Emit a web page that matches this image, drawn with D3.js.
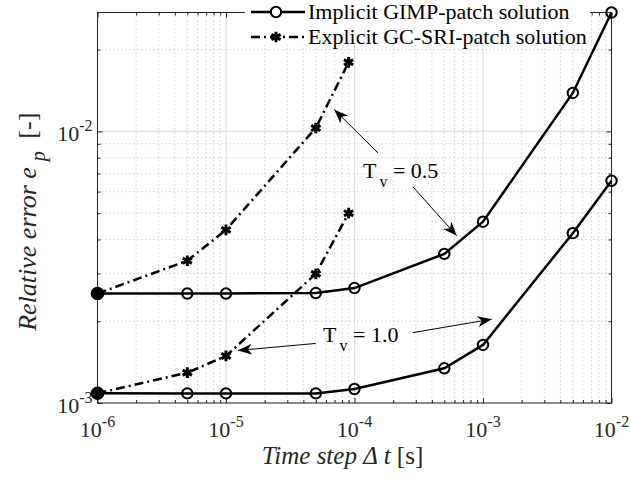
<!DOCTYPE html>
<meta charset="utf-8">
<style>
    body { margin: 0; background: #fff; }
    svg { font-family: "Liberation Serif", "Times New Roman", serif; }
</style>
<script src="https://d3js.org/d3.v7.min.js"></script>
<div id="chart"></div>
<script>

    // time steps (s)
    var timeSteps = [1e-6, 5e-6, 1e-5, 5e-5, 1e-4, 5e-4, 1e-3, 5e-3, 1e-2];
    var explicitSteps = [1e-6, 5e-6, 1e-5, 5e-5, 9e-5];

    // relative error e_p
    var implicitTv05 = [2.53e-3, 2.53e-3, 2.53e-3, 2.54e-3, 2.65e-3, 3.54e-3, 4.65e-3, 1.385e-2, 2.74e-2];
    var implicitTv10 = [1.086e-3, 1.085e-3, 1.085e-3, 1.085e-3, 1.126e-3, 1.342e-3, 1.636e-3, 4.22e-3, 6.58e-3];
    var explicitTv05 = [2.53e-3, 3.34e-3, 4.34e-3, 1.029e-2, 1.796e-2];
    var explicitTv10 = [1.086e-3, 1.293e-3, 1.49e-3, 2.99e-3, 5.0e-3];

    var xTicks = [1e-6, 1e-5, 1e-4, 1e-3, 1e-2];
    var xTickExps = ["-6", "-5", "-4", "-3", "-2"];
    var yTicks = [1e-3, 1e-2];
    var yTickExps = ["-3", "-2"];

    var legendLabels = ["Implicit GIMP-patch solution", "Explicit GC-SRI-patch solution"];

    // annotations in data coords: [dt, err]
    var notes = [
        {label: "0.5", at: [1.164e-4, 6.75e-3]},
        {label: "1.0", at: [5.69e-5, 1.678e-3]}
    ];
    var arrows = [
        {from: [1.52e-4, 8.34e-3], to: [6.97e-5, 1.202e-2]},
        {from: [2.85e-4, 6.25e-3], to: [6.24e-4, 4.13e-3]},
        {from: [5.0e-5, 1.657e-3], to: [1.24e-5, 1.561e-3]},
        {from: [2.85e-4, 1.816e-3], to: [1.169e-3, 2.035e-3]}
    ];

    var margin = {top: 12.5, right: 19.5, bottom: 81, left: 97.5},
        width = 631 - margin.left - margin.right,
        height = 484 - margin.top - margin.bottom;

    var svg = d3.select("#chart")
        .append("svg")
        .attr("width", 631)
        .attr("height", 484)
        .append("g")
        .attr("transform", "translate(" + margin.left + "," + margin.top + ")");

    var allErr = implicitTv05.concat(implicitTv10, explicitTv05, explicitTv10);

    var x = d3.scaleLog()
        .domain([timeSteps[0], timeSteps[timeSteps.length - 1]])
        .range([0, width]);
    var y = d3.scaleLog()
        .domain([yTicks[0], d3.max(allErr)])
        .range([height, 0]);

    // minor tick positions (2..9 per decade)
    var xMinor = [], yMinor = [];
    for (var e = -6; e < -2; e++)
        for (var k = 2; k < 10; k++) xMinor.push(k * Math.pow(10, e));
    for (var e2 = -3; e2 < -1; e2++)
        for (var k2 = 2; k2 < 10; k2++) {
            var v = k2 * Math.pow(10, e2);
            if (v <= y.domain()[1]) yMinor.push(v);
        }

    // grid
    var grid = svg.append("g").attr("class", "grid");
    grid.selectAll(".xmin").data(xMinor).enter().append("line")
        .attr("x1", function(d) { return x(d); }).attr("x2", function(d) { return x(d); })
        .attr("y1", 0).attr("y2", height)
        .style("stroke", "#bdbdbd").style("stroke-dasharray", "1,3");
    grid.selectAll(".ymin").data(yMinor).enter().append("line")
        .attr("y1", function(d) { return y(d); }).attr("y2", function(d) { return y(d); })
        .attr("x1", 0).attr("x2", width)
        .style("stroke", "#bdbdbd").style("stroke-dasharray", "1,3");
    grid.selectAll(".xmaj").data(xTicks).enter().append("line")
        .attr("x1", function(d) { return x(d); }).attr("x2", function(d) { return x(d); })
        .attr("y1", 0).attr("y2", height)
        .style("stroke", "#e0e0e0").style("stroke-width", 1.2);
    grid.selectAll(".ymaj").data(yTicks).enter().append("line")
        .attr("y1", function(d) { return y(d); }).attr("y2", function(d) { return y(d); })
        .attr("x1", 0).attr("x2", width)
        .style("stroke", "#e0e0e0").style("stroke-width", 1.2);

    // inward ticks on all sides
    function tickAxis(axisFn, scale, vals, len, tr) {
        var g = svg.append("g")
            .attr("transform", tr)
            .call(axisFn(scale).tickValues(vals).tickSize(len).tickSizeOuter(0).tickFormat(""));
        g.select(".domain").remove();
        g.selectAll("line").style("stroke", "#262626");
    }
    tickAxis(d3.axisBottom, x, xTicks, -5, "translate(0," + height + ")");
    tickAxis(d3.axisBottom, x, xMinor, -3, "translate(0," + height + ")");
    tickAxis(d3.axisTop, x, xTicks, -5, "translate(0,0)");
    tickAxis(d3.axisTop, x, xMinor, -3, "translate(0,0)");
    tickAxis(d3.axisLeft, y, yTicks, -5, "translate(0,0)");
    tickAxis(d3.axisLeft, y, yMinor, -3, "translate(0,0)");
    tickAxis(d3.axisRight, y, yTicks, -5, "translate(" + width + ",0)");
    tickAxis(d3.axisRight, y, yMinor, -3, "translate(" + width + ",0)");

    svg.append("rect")
        .attr("width", width).attr("height", height)
        .style("fill", "none").style("stroke", "#262626").style("stroke-width", 1);

    // tick labels with superscripts
    var xl = svg.selectAll(".xlab").data(xTicks).enter().append("text")
        .attr("x", function(d) { return x(d); })
        .attr("y", height + 34)
        .attr("text-anchor", "middle")
        .style("font-size", "22px").style("fill", "#262626");
    xl.append("tspan").text("10");
    xl.append("tspan").attr("dy", -10).style("font-size", "16px")
        .text(function(d, i) { return xTickExps[i]; });

    var yl = svg.selectAll(".ylab").data(yTicks).enter().append("text")
        .attr("x", -5)
        .attr("y", function(d) { return y(d) + 10; })
        .attr("text-anchor", "end")
        .style("font-size", "22px").style("fill", "#262626");
    yl.append("tspan").text("10");
    yl.append("tspan").attr("dy", -10).style("font-size", "16px")
        .text(function(d, i) { return yTickExps[i]; });

    // axis titles
    var xt = svg.append("text")
        .attr("x", width / 2 - 12)
        .attr("y", height + 61)
        .attr("text-anchor", "middle")
        .style("font-size", "25px").style("fill", "#262626");
    xt.append("tspan").style("font-style", "italic").text("Time step \u0394 t");
    xt.append("tspan").text(" [s]");

    var yt = svg.append("text")
        .attr("transform", "translate(-62," + (height / 2 + 14) + ") rotate(-90)")
        .attr("text-anchor", "middle")
        .style("font-size", "26px").style("fill", "#262626");
    yt.append("tspan").style("font-style", "italic").text("Relative error e");
    yt.append("tspan").attr("dy", 9).attr("dx", 6).style("font-style", "italic").style("font-size", "20px").text("p");
    yt.append("tspan").attr("dy", -9).attr("dx", 6).text(" [-]");

    // series
    var line = d3.line()
        .x(function(d) { return x(d[0]); })
        .y(function(d) { return y(d[1]); });

    function pairs(xs, ys) { return xs.map(function(d, i) { return [d, ys[i]]; }); }

    var implicitSeries = [pairs(timeSteps, implicitTv05), pairs(timeSteps, implicitTv10)];
    var explicitSeries = [pairs(explicitSteps, explicitTv05), pairs(explicitSteps, explicitTv10)];

    var star = d3.symbol().type(d3.symbolAsterisk || d3.symbolCross).size(80);

    explicitSeries.forEach(function(s) {
        svg.append("path").datum(s)
            .attr("d", line)
            .style("fill", "none").style("stroke", "#000").style("stroke-width", 2.5)
            .style("stroke-dasharray", "9,4,2,4");
        svg.selectAll(null).data(s).enter().append("path")
            .attr("transform", function(d) { return "translate(" + x(d[0]) + "," + y(d[1]) + ")"; })
            .attr("d", star)
            .style("fill", "none").style("stroke", "#000").style("stroke-width", 3);
    });

    implicitSeries.forEach(function(s, si) {
        svg.append("path").datum(s)
            .attr("d", line)
            .style("fill", "none").style("stroke", "#000").style("stroke-width", 2.5);
        var ex = explicitSeries[si];
        function shared(d) { return ex.some(function(p) { return p[0] === d[0] && p[1] === d[1]; }); }
        svg.selectAll(null).data(s).enter().append("circle")
            .attr("cx", function(d) { return x(d[0]); })
            .attr("cy", function(d) { return y(d[1]); })
            .attr("r", function(d) { return shared(d) ? 5.8 : 5.2; })
            .style("fill", function(d) { return shared(d) ? "#000" : "none"; })
            .style("stroke", "#000").style("stroke-width", 2);
    });

    // annotations
    var defs = svg.append("defs");
    defs.append("marker")
        .attr("id", "arrowhead")
        .attr("markerUnits", "userSpaceOnUse")
        .attr("markerWidth", 16).attr("markerHeight", 12)
        .attr("refX", 14).attr("refY", 6)
        .attr("orient", "auto")
        .append("path")
        .attr("d", "M0,0.5 L14,6 L0,11.5 L4,6 Z")
        .style("fill", "#000");

    svg.selectAll(".arrow").data(arrows).enter().append("line")
        .attr("x1", function(d) { return x(d.from[0]); })
        .attr("y1", function(d) { return y(d.from[1]); })
        .attr("x2", function(d) { return x(d.to[0]); })
        .attr("y2", function(d) { return y(d.to[1]); })
        .style("stroke", "#000").style("stroke-width", 1)
        .attr("marker-end", "url(#arrowhead)");

    var nt = svg.selectAll(".note").data(notes).enter().append("text")
        .attr("x", function(d) { return x(d.at[0]); })
        .attr("y", function(d) { return y(d.at[1]); })
        .style("font-size", "22px").style("fill", "#000");
    nt.append("tspan").text("T");
    nt.append("tspan").attr("dx", 3).attr("dy", 9).style("font-size", "16px").text("v");
    nt.append("tspan").attr("dy", -9).text(function(d) { return " = " + d.label; });

    // legend (white box, no border)
    var lg = svg.append("g").attr("transform", "translate(" + (245 - margin.left) + "," + (-margin.top) + ")");
    lg.append("rect")
        .attr("x", 0).attr("y", -5).attr("width", 345).attr("height", 50)
        .style("fill", "#fff");
    legendLabels.forEach(function(lbl, i) {
        var cy = 12 + i * 25;
        var ln = lg.append("line")
            .attr("x1", 6).attr("x2", 60).attr("y1", cy).attr("y2", cy)
            .style("stroke", "#000").style("stroke-width", 2.5);
        if (i === 1) {
            ln.style("stroke-dasharray", "9,4,2,4");
            lg.append("path").attr("transform", "translate(31," + cy + ")")
                .attr("d", star).style("fill", "none").style("stroke", "#000").style("stroke-width", 3);
        } else {
            lg.append("circle").attr("cx", 31).attr("cy", cy).attr("r", 5.2)
                .style("fill", "#fff").style("stroke", "#000").style("stroke-width", 2);
        }
        lg.append("text")
            .attr("x", 63).attr("y", cy + 7)
            .style("font-size", "22px").style("fill", "#000")
            .text(lbl);
    });

</script>
